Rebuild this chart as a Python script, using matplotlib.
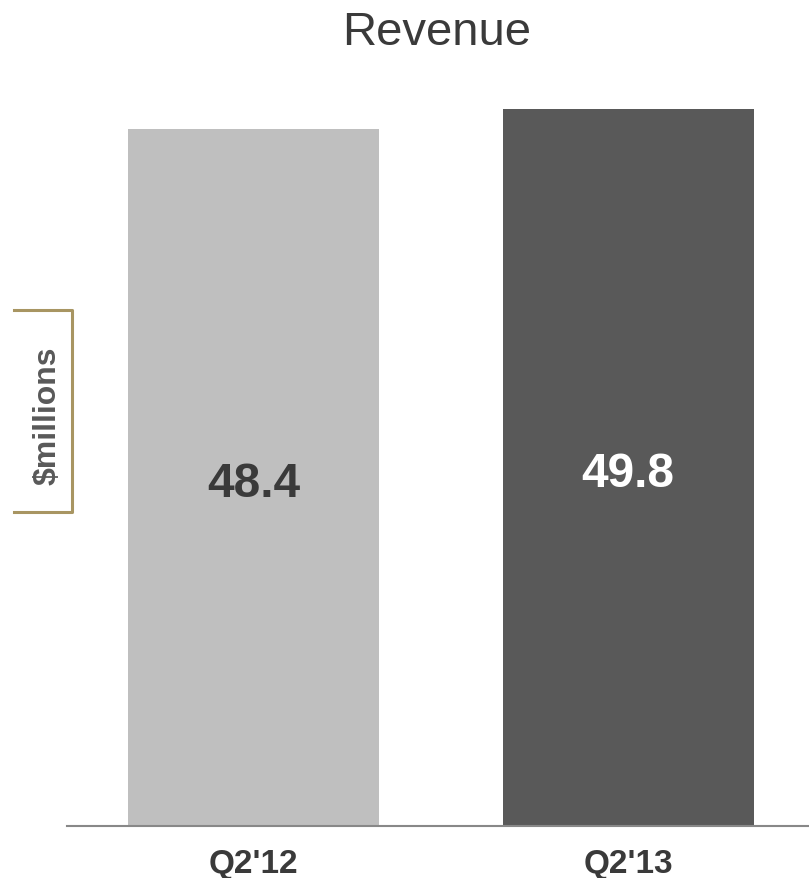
import matplotlib
matplotlib.use('Agg')
from matplotlib import pyplot as plt
from matplotlib.lines import Line2D

plt.rcParams['font.family'] = ['Liberation Sans', 'DejaVu Sans']

# Data
quarters = ["Q2'12", "Q2'13"]
revenue = [48.4, 49.8]
bar_colors = ['#bfbfbf', '#595959']
label_colors = ['#3a3a3a', '#ffffff']

W, H = 809, 879
fig = plt.figure(figsize=(W / 100, H / 100), dpi=100)

# axes: left at x=67px, bottom at y=827px, 14.4 px per unit
ymax = 52
ax_h = ymax * 14.4
ax = fig.add_axes([67 / W, (H - 827) / H, (W - 67) / W, ax_h / H])

x = list(range(len(quarters)))
ax.bar(x, revenue, width=0.67, color=bar_colors)
ax.set_xlim(-0.498, 1.483)
ax.set_ylim(0, ymax)

for i, v in enumerate(revenue):
    ax.text(i, v / 2 - 0.4, str(v), ha='center', va='center', fontsize=34.5,
            fontweight='bold', color=label_colors[i])

ax.set_xticks(x)
ax.set_xticklabels(quarters, fontsize=24, fontweight='bold', color='#3a3a3a')
ax.tick_params(axis='x', length=0, pad=16)
ax.set_yticks([])
for s in ['top', 'right', 'left']:
    ax.spines[s].set_visible(False)
ax.spines['bottom'].set_color('#888888')
ax.spines['bottom'].set_linewidth(1.5)

fig.text(437 / W, 1 - 33 / H, 'Revenue', ha='center', va='center',
         fontsize=34, color='#3a3a3a')

# $millions bracket
gold = '#a89562'
bx = [14 / W, 72 / W, 72 / W, 14 / W]
by = [1 - 311 / H, 1 - 311 / H, 1 - 513 / H, 1 - 513 / H]
fig.add_artist(Line2D(bx, by, color=gold, linewidth=2.2,
                      transform=fig.transFigure))
fig.text(48 / W, 1 - 416 / H, '$millions', rotation=90, ha='center',
         va='center', fontsize=23, fontweight='bold', color='#595959')

fig.savefig('out.png', dpi=100)
